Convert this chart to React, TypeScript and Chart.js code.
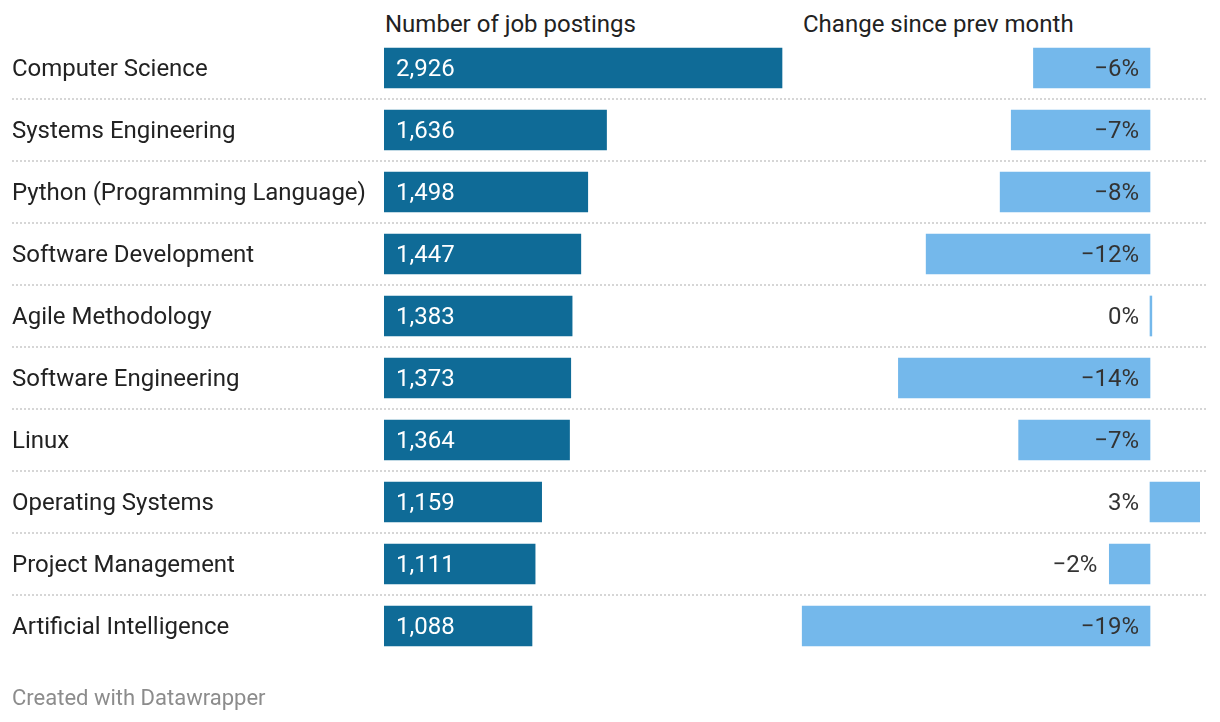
import React, { useEffect, useRef } from "react";
import { Chart, registerables } from "chart.js";

Chart.register(...registerables);

const categories = [
  "Computer Science",
  "Systems Engineering",
  "Python (Programming Language)",
  "Software Development",
  "Agile Methodology",
  "Software Engineering",
  "Linux",
  "Operating Systems",
  "Project Management",
  "Artificial Intelligence",
];

const jobPostings = [2926, 1636, 1498, 1447, 1383, 1373, 1364, 1159, 1111, 1088];

// change since previous month, in percent
const changePct = [-6.3, -7.5, -8.1, -12.1, 0.1, -13.6, -7.1, 2.7, -2.2, -18.8];

const headers = ["Number of job postings", "Change since prev month"];
const footer = "Created with Datawrapper";

const FONT = "Roboto, 'Noto Sans', sans-serif";
const DARK = "#0f6b97";
const LIGHT = "#74b8eb";
const TEXT = "#222222";

const fmtInt = (v: number) => v.toLocaleString("en-US");
const fmtPct = (v: number) => {
  const r = Math.round(v);
  return (r < 0 ? "\u2212" + Math.abs(r) : String(r)) + "%";
};

export default function App() {
  const ref = useRef<HTMLCanvasElement | null>(null);

  useEffect(() => {
    if (!ref.current) return;
    const areaLeft = 384;
    const col1Right = 782;
    const areaRight = 1200;
    const zeroX = 1150;
    const pxPerPct = 18.5;
    const maxPost = Math.max(...jobPostings);
    const xMax = (maxPost * (areaRight - areaLeft)) / (col1Right - areaLeft);
    const x2Min = -(zeroX - areaLeft) / pxPerPct;
    const x2Max = (areaRight - zeroX) / pxPerPct;

    const overlay = {
      id: "overlay",
      beforeDatasetsDraw(chart: any) {
        const ctx = chart.ctx;
        const y = chart.scales.y;
        ctx.save();
        ctx.strokeStyle = "#d6d6d6";
        ctx.lineWidth = 2;
        ctx.setLineDash([2, 2]);
        for (let i = 0; i < categories.length - 1; i++) {
          const yy = (y.getPixelForValue(i) + y.getPixelForValue(i + 1)) / 2;
          ctx.beginPath();
          ctx.moveTo(12, yy);
          ctx.lineTo(1208, yy);
          ctx.stroke();
        }
        ctx.restore();
      },
      afterDatasetsDraw(chart: any) {
        const ctx = chart.ctx;
        const y = chart.scales.y;
        const x = chart.scales.x;
        const x2 = chart.scales.x2;
        ctx.save();
        ctx.font = `24px ${FONT}`;
        ctx.textBaseline = "middle";
        categories.forEach((c, i) => {
          const yy = y.getPixelForValue(i) + 2;
          ctx.fillStyle = TEXT;
          ctx.textAlign = "left";
          ctx.fillText(c, 12, yy);
          // postings value inside bar
          ctx.fillStyle = "#ffffff";
          ctx.fillText(fmtInt(jobPostings[i]), x.getPixelForValue(0) + 12, yy);
          // change label
          const z = x2.getPixelForValue(0);
          const end = x2.getPixelForValue(changePct[i]);
          const label = fmtPct(changePct[i]);
          ctx.fillStyle = "#333333";
          ctx.textAlign = "right";
          const w = ctx.measureText(label).width;
          if (changePct[i] < 0 && z - end < w + 20) {
            ctx.fillText(label, end - 12, yy);
          } else {
            ctx.fillText(label, z - 11, yy);
          }
        });
        ctx.restore();
      },
    };

    const chart = new Chart(ref.current, {
      type: "bar",
      data: {
        labels: categories,
        datasets: [
          {
            data: jobPostings,
            xAxisID: "x",
            backgroundColor: DARK,
            barThickness: 40,
            grouped: false,
          },
          {
            data: changePct,
            xAxisID: "x2",
            backgroundColor: LIGHT,
            barThickness: 40,
            grouped: false,
          },
        ] as any,
      },
      options: {
        indexAxis: "y",
        animation: false,
        responsive: false,
        maintainAspectRatio: false,
        layout: { padding: { left: areaLeft, right: 1220 - areaRight, top: 37, bottom: 65 } },
        plugins: { legend: { display: false }, tooltip: { enabled: false } },
        scales: {
          y: { type: "category", display: false, offset: true },
          x: { type: "linear", display: false, min: 0, max: xMax },
          x2: { type: "linear", display: false, min: x2Min, max: x2Max },
        },
      } as any,
      plugins: [overlay],
    });
    return () => chart.destroy();
  }, []);

  const hStyle: React.CSSProperties = {
    position: "absolute",
    top: 9,
    fontFamily: FONT,
    fontSize: 24,
    color: TEXT,
    lineHeight: "30px",
    whiteSpace: "nowrap",
  };

  return (
    <div
      style={{
        position: "absolute",
        left: 0,
        top: 0,
        width: 1220,
        height: 722,
        background: "#ffffff",
        overflow: "hidden",
      }}
    >
      <div style={{ ...hStyle, left: 385 }}>{headers[0]}</div>
      <div style={{ ...hStyle, left: 803 }}>{headers[1]}</div>
      <canvas
        ref={ref}
        width={1220}
        height={722}
        style={{ position: "absolute", left: 0, top: 0, width: 1220, height: 722 }}
      />
      <div
        style={{
          position: "absolute",
          left: 12,
          top: 683,
          fontFamily: FONT,
          fontSize: 22,
          color: "#8c8c8c",
          lineHeight: "30px",
          whiteSpace: "nowrap",
        }}
      >
        {footer}
      </div>
    </div>
  );
}
